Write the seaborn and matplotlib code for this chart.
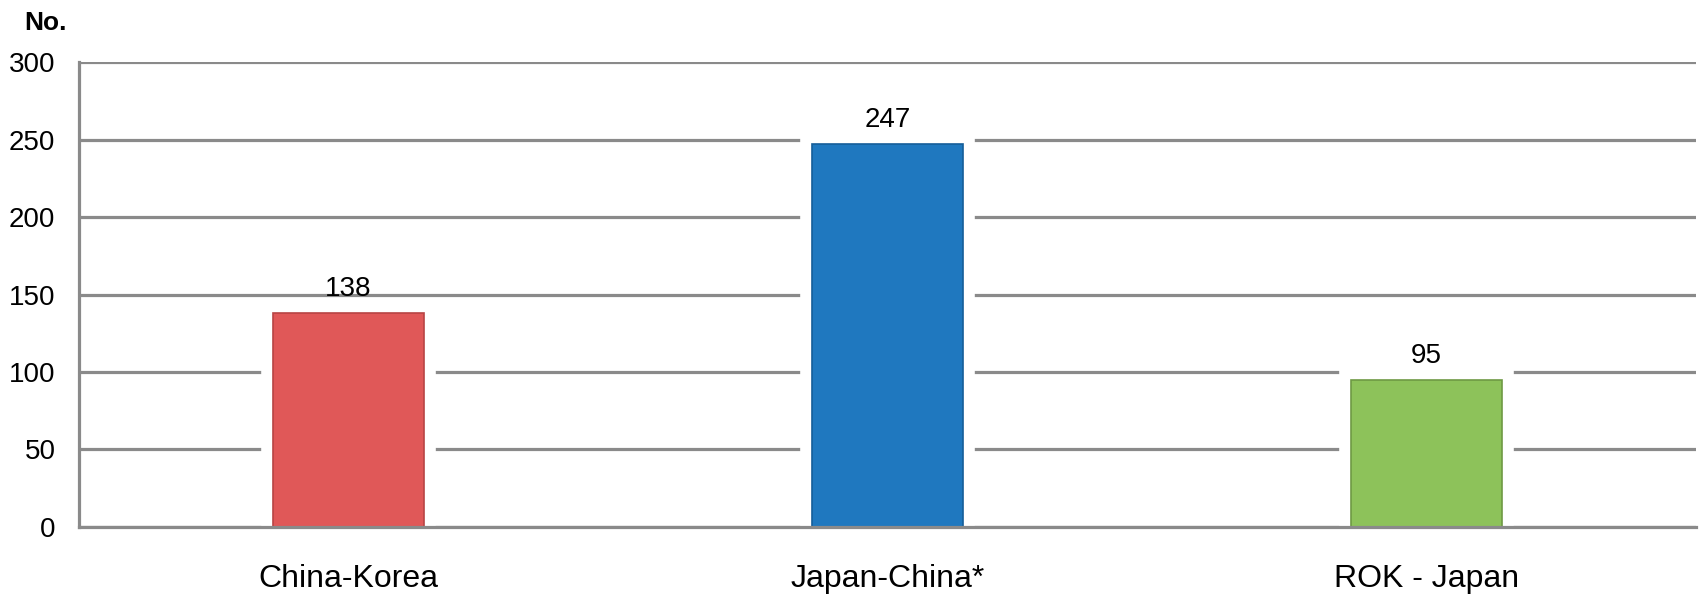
import matplotlib
matplotlib.use("Agg")
import matplotlib.pyplot as plt
import matplotlib.patheffects as pe
import seaborn as sns

# data
categories = ["China-Korea", "Japan-China*", "ROK - Japan"]
values = [138, 247, 95]
colors = ["#E05858", "#1F78BF", "#8DC25A"]
edge_colors = ["#B84444", "#155E99", "#6E9A44"]
y_ticks = [0, 50, 100, 150, 200, 250, 300]

sns.set_style("white")
plt.rcParams['font.family'] = ['Liberation Sans', 'DejaVu Sans']

fig = plt.figure(figsize=(17.03, 5.97), dpi=100)
ax = fig.add_axes([0.0464, 0.1173, 0.9495, 0.7788])

sns.barplot(x=categories, y=values, hue=categories, palette=colors,
            width=0.28, legend=False, saturation=1, ax=ax, zorder=2)

# white halo around bars, breaks the grid lines like the original
for bar, ec in zip(ax.patches, edge_colors):
    bar.set_edgecolor(ec)
    bar.set_linewidth(1.2)
    bar.set_path_effects([pe.Stroke(linewidth=17, foreground='white'), pe.Normal()])

for cont in ax.containers:
    ax.bar_label(cont, fmt='%d', padding=8, fontsize=20, color='black')

ax.set_ylim(0, 300)
ax.set_xlim(-0.5, 2.5)
ax.set_yticks(y_ticks)
ax.yaxis.grid(True, color='#8A8A8A', linewidth=2.3, zorder=0)
ax.set_axisbelow(True)

for side in ['top', 'right']:
    ax.spines[side].set_visible(False)
for side in ['left', 'bottom']:
    ax.spines[side].set_color('#8A8A8A')
    ax.spines[side].set_linewidth(2.3)
    ax.spines[side].set_zorder(3)

ax.tick_params(axis='y', length=0, pad=17, labelsize=20, labelcolor='black')
ax.tick_params(axis='x', length=0, pad=27, labelsize=23, labelcolor='black')
ax.set_xlabel('')
ax.set_ylabel('')

fig.text(0.0141, 1 - 30 / 597, "No.", fontsize=19, fontweight='bold',
         va='baseline', ha='left', color='black')

fig.savefig("out.png", dpi=100)
